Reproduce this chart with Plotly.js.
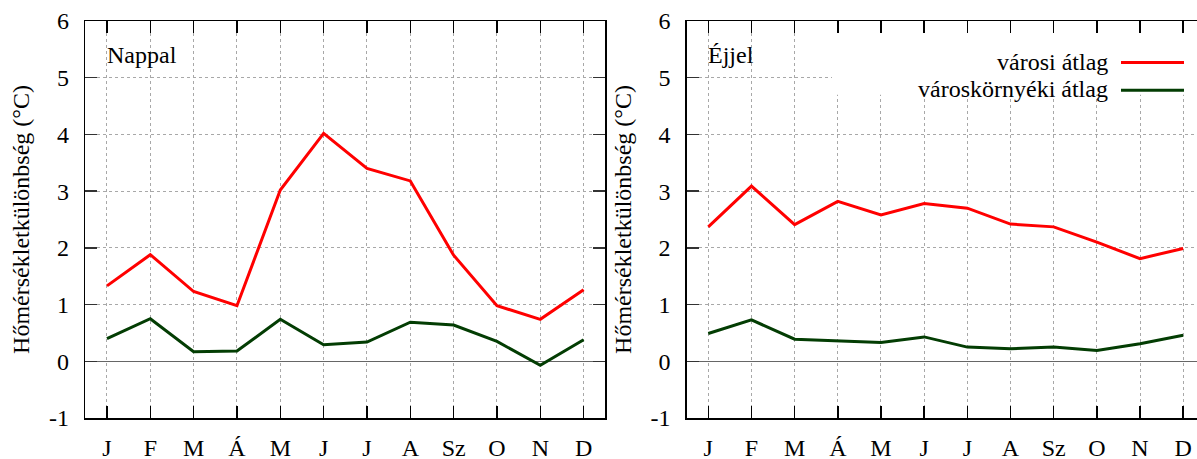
<!DOCTYPE html>
<html>
<head>
<meta charset="utf-8">
<script src="https://cdn.plot.ly/plotly-3.0.1.min.js"></script>
<style>html,body{margin:0;padding:0;background:#fff;}#chart{width:1197px;height:459px;}</style>
</head>
<body>
<div id="chart"></div>
<script>
// ---- data ----
const months = ["J", "F", "M", "Á", "M", "J", "J", "A", "Sz", "O", "N", "D"];
const seriesNames = ["városi átlag", "városkörnyéki átlag"];
const panelLabels = ["Nappal", "Éjjel"];
const yTitle = "Hőmérsékletkülönbség (°C)";
const yTickVals = [-1, 0, 1, 2, 3, 4, 5, 6];
const yTickText = ["-1", "0", "1", "2", "3", "4", "5", "6"];

const dayUrban    = [1.33, 1.88, 1.23, 0.98, 3.02, 4.02, 3.40, 3.18, 1.87, 0.98, 0.74, 1.26];
const daySuburban = [0.40, 0.75, 0.17, 0.18, 0.74, 0.29, 0.34, 0.69, 0.64, 0.35, -0.07, 0.38];
const nightUrban    = [2.37, 3.09, 2.41, 2.82, 2.58, 2.78, 2.70, 2.42, 2.37, 2.10, 1.81, 1.99];
const nightSuburban = [0.49, 0.73, 0.39, 0.36, 0.33, 0.43, 0.25, 0.22, 0.25, 0.19, 0.31, 0.46];

// ---- styling ----
const RED = "#ff0000";
const GREEN = "#033d03";
const FONT = "'Liberation Serif', 'Times New Roman', Times, 'DejaVu Serif', serif";
const FS = 24;
const xIdx = months.map((m, i) => i + 1);

function line(x, y, color, xa, ya, name) {
  return {x: x, y: y, type: "scatter", mode: "lines", name: name,
          line: {color: color, width: 3}, xaxis: xa, yaxis: ya,
          showlegend: false, hoverinfo: "skip"};
}

const traces = [
  line(xIdx, dayUrban, RED, "x", "y", seriesNames[0]),
  line(xIdx, daySuburban, GREEN, "x", "y", seriesNames[1]),
  line(xIdx, nightUrban, RED, "x2", "y2", seriesNames[0]),
  line(xIdx, nightSuburban, GREEN, "x2", "y2", seriesNames[1])
];

const W = 1197, H = 459;
function xAxis(domain, range, mirror) {
  return {
    domain: domain, range: range,
    tickmode: "array", tickvals: xIdx, ticktext: months,
    ticks: "inside", ticklen: 12, tickwidth: 1.5, tickcolor: "#000",
    showline: true, linecolor: "#000", linewidth: 1.5, mirror: mirror,
    showgrid: true, gridcolor: "#a8a8a8", griddash: "dot", gridwidth: 1,
    zeroline: false,
    tickfont: {family: FONT, size: FS, color: "#000"},
    ticklabelstandoff: 8, fixedrange: true
  };
}
function yAxis(anchor, mirror) {
  return {
    anchor: anchor, range: [-1, 6],
    tickmode: "array", tickvals: yTickVals, ticktext: yTickText,
    ticks: "inside", ticklen: 12, tickwidth: 1.5, tickcolor: "#333",
    showline: true, linecolor: "#000", linewidth: 1.5, mirror: mirror,
    showgrid: true, gridcolor: "#a8a8a8", griddash: "dot", gridwidth: 1,
    zeroline: true, zerolinecolor: "#666", zerolinewidth: 1.5,
    tickfont: {family: FONT, size: FS, color: "#000"},
    ticklabelstandoff: 10,
    title: {text: yTitle, font: {family: FONT, size: FS, color: "#000"}, standoff: 12},
    fixedrange: true
  };
}

const x1 = xAxis([85.3 / W, 605.3 / W], [0.5, 12.5], "ticks");
x1.anchor = "y";
const x2 = xAxis([686.7 / W, 1], [0.5, 12.32], "ticks");
x2.anchor = "y2";
const y1 = yAxis("x", "ticks");
const y2 = yAxis("x2", false);

const annotations = [
  {xref: "x domain", yref: "y domain", x: (105 - 85.3) / 520, y: 0.915, xanchor: "left", yanchor: "middle",
   text: panelLabels[0], showarrow: false, font: {family: FONT, size: FS, color: "#000"}},
  {xref: "x2 domain", yref: "y2 domain", x: (706 - 686.7) / 510.3, y: 0.915, xanchor: "left", yanchor: "middle",
   text: panelLabels[1], showarrow: false, font: {family: FONT, size: FS, color: "#000"}},
  {xref: "paper", yref: "paper", x: 1110 / W, y: 1 - 47 / H, xanchor: "right", yanchor: "middle",
   text: seriesNames[0], showarrow: false, font: {family: FONT, size: FS, color: "#000"}},
  {xref: "paper", yref: "paper", x: 1110 / W, y: 1 - 79 / H, xanchor: "right", yanchor: "middle",
   text: seriesNames[1], showarrow: false, font: {family: FONT, size: FS, color: "#000"}}
];

const shapes = [
  // opaque legend box hiding the grid (between grid and traces)
  {type: "rect", xref: "x2", yref: "y2", x0: 3.865, x1: 12.4, y0: 4.70, y1: 6.0,
   fillcolor: "#fff", line: {width: 0}, layer: "between"},
  // legend samples
  {type: "line", xref: "paper", yref: "paper", x0: 1121 / W, x1: 1184 / W, y0: 1 - 48 / H, y1: 1 - 48 / H,
   line: {color: RED, width: 3}},
  {type: "line", xref: "paper", yref: "paper", x0: 1121 / W, x1: 1184 / W, y0: 1 - 80 / H, y1: 1 - 80 / H,
   line: {color: GREEN, width: 3}}
];

const layout = {
  width: W, height: H,
  margin: {l: 0, r: 0, t: 21.3, b: 41, pad: 0},
  paper_bgcolor: "#fff", plot_bgcolor: "#fff",
  showlegend: false,
  xaxis: x1, yaxis: y1, xaxis2: x2, yaxis2: y2,
  annotations: annotations, shapes: shapes,
  font: {family: FONT, size: FS, color: "#000"}
};

Plotly.newPlot("chart", traces, layout, {staticPlot: true, displayModeBar: false});
</script>
</body>
</html>
